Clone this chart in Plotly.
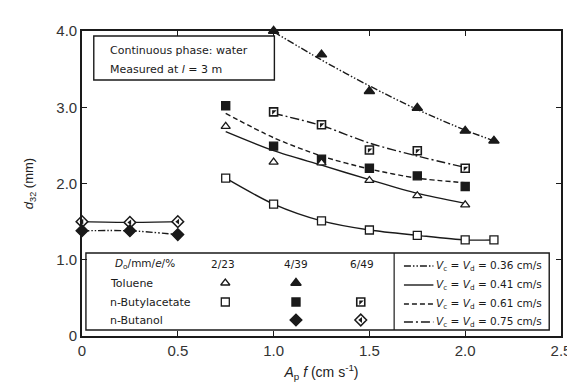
import plotly.graph_objects as go

# ---------------- data ----------------
# Toluene, Do/e = 4/39, Vc=Vd=0.36 cm/s
x_tol_439 = [1.0, 1.25, 1.5, 1.75, 2.0, 2.15]
y_tol_439 = [4.0, 3.69, 3.21, 2.99, 2.69, 2.56]
fit_tol_439 = [3.99, 3.62, 3.28, 2.97, 2.70, 2.56]

# n-Butylacetate, 6/49, Vc=Vd=0.75 cm/s
x_ba_649 = [1.0, 1.25, 1.5, 1.75, 2.0]
y_ba_649 = [2.94, 2.77, 2.44, 2.43, 2.20]
fit_ba_649 = [2.92, 2.76, 2.53, 2.36, 2.21]

# n-Butylacetate, 4/39, Vc=Vd=0.61 cm/s
x_ba_439 = [0.75, 1.0, 1.25, 1.5, 1.75, 2.0]
y_ba_439 = [3.02, 2.49, 2.32, 2.20, 2.10, 1.96]
fit_ba_439 = [2.92, 2.60, 2.36, 2.19, 2.07, 2.01]

# Toluene, 2/23, Vc=Vd=0.41 cm/s
x_tol_223 = [0.75, 1.0, 1.25, 1.5, 1.75, 2.0]
y_tol_223 = [2.75, 2.28, 2.27, 2.04, 1.84, 1.72]
fit_tol_223 = [2.68, 2.43, 2.24, 2.05, 1.87, 1.74]

# n-Butylacetate, 2/23, Vc=Vd=0.41 cm/s
x_ba_223 = [0.75, 1.0, 1.25, 1.5, 1.75, 2.0, 2.15]
y_ba_223 = [2.07, 1.73, 1.51, 1.39, 1.32, 1.26, 1.26]

# n-Butanol
x_bu = [0.0, 0.25, 0.5]
y_bu_649 = [1.50, 1.49, 1.50]   # 6/49, 0.41 cm/s
y_bu_439 = [1.38, 1.38, 1.33]   # 4/39, 0.36 cm/s

x_ticks = [0, 0.5, 1.0, 1.5, 2.0, 2.5]
x_tick_text = ["0", "0.5", "1.0", "1.5", "2.0", "2.5"]
y_ticks = [0, 1, 2, 3, 4]
y_tick_text = ["0", "1.0", "2.0", "3.0", "4.0"]

velocities = ["0.36", "0.41", "0.61", "0.75"]
dash_styles = ["7px,2px,1.5px,2px,1.5px,2px", "solid", "5px,3px", "9px,3px,2px,3px"]

INK = "#1a1a1a"
FONT = "DejaVu Sans"

fig = go.Figure()

def curve(x, y, dash):
    fig.add_trace(go.Scatter(x=x, y=y, mode="lines", line=dict(color=INK, width=1.4, dash=dash, shape="spline", smoothing=0.8),
                             showlegend=False, hoverinfo="skip", cliponaxis=False))

def marks(x, y, symbol, size=8, lw=1.4, color=INK):
    fig.add_trace(go.Scatter(x=x, y=y, mode="markers",
                             marker=dict(symbol=symbol, size=size, color=color, line=dict(color=INK, width=lw)),
                             showlegend=False, cliponaxis=False))

# lines
curve(x_tol_439, fit_tol_439, dash_styles[0])
curve(x_ba_649, fit_ba_649, dash_styles[3])
curve(x_ba_439, fit_ba_439, dash_styles[2])
curve(x_tol_223, fit_tol_223, dash_styles[1])
curve(x_ba_223, y_ba_223, dash_styles[1])
curve(x_bu, y_bu_649, dash_styles[1])
curve(x_bu, y_bu_439, dash_styles[0])

# markers
marks(x_tol_439, y_tol_439, "triangle-up", 9)
marks(x_ba_649, y_ba_649, "square", 8, 1.6, "white")
marks(x_ba_649, y_ba_649, "triangle-nw", 5, 0)
marks(x_ba_439, y_ba_439, "square", 8)
marks(x_tol_223, y_tol_223, "triangle-up", 8, 1.3, "white")
marks(x_ba_223, y_ba_223, "square", 8, 1.3, "white")
marks(x_bu, y_bu_649, "diamond", 9, 1.5, "white")
marks(x_bu, y_bu_649, "triangle-left", 5, 0)
marks(x_bu, y_bu_439, "diamond", 9)

# ---------------- overlay pixel axis for legend/annotation boxes ----------------
L, R, T, B = 74, 562, 23, 328

def px_marks(x, y, symbol, size=8, lw=1.4, color=INK):
    fig.add_trace(go.Scatter(x=x, y=y, xaxis="x2", yaxis="y2", mode="markers",
                             marker=dict(symbol=symbol, size=size, color=color, line=dict(color=INK, width=lw)),
                             showlegend=False, hoverinfo="skip", cliponaxis=False))

shapes = []
annotations = []

def box(x0, y0, x1, y1, w=1.4):
    shapes.append(dict(type="rect", xref="x2", yref="y2", x0=x0, y0=y0, x1=x1, y1=y1,
                       line=dict(color=INK, width=w), fillcolor="white", layer="below"))

def text(x, y, s, size=11, xanchor="left"):
    annotations.append(dict(x=x, y=y, xref="x2", yref="y2", text=s, showarrow=False,
                            xanchor=xanchor, yanchor="middle", font=dict(family=FONT, size=size, color=INK)))

# top-left info box
box(86, 28, 270, 72)
text(100, 42, "Continuous phase: water")
text(100, 61, "Measured at <i>l</i> = 3 m")

# bottom legend box
box(78, 245, 550, 322)
shapes.append(dict(type="line", xref="x2", yref="y2", x0=392, x1=392, y0=245, y1=322,
                   line=dict(color=INK, width=1.2), layer="below"))

text(106, 256, "<i>D</i><sub>o</sub>/mm/<i>e</i>/%", 10.5)
text(218, 256, "2/23", 10.5, "center")
text(292, 256, "4/39", 10.5, "center")
text(359, 256, "6/49", 10.5, "center")
text(100, 275, "Toluene")
text(100, 294, "n-Butylacetate")
text(100, 312, "n-Butanol")

for i, (v, d) in enumerate(zip(velocities, dash_styles)):
    yy = [258, 277, 296, 314][i]
    shapes.append(dict(type="line", xref="x2", yref="y2", x0=402, x1=432, y0=yy, y1=yy,
                       line=dict(color=INK, width=1.4, dash=d), layer="below"))
    text(433, yy, "<i>V</i><sub>c</sub> = <i>V</i><sub>d</sub> = " + v + " cm/s", 10.5)

fig.update_layout(shapes=shapes, annotations=annotations)

# legend glyphs
px_marks([220], [275], "triangle-up", 8, 1.3, "white")
px_marks([220], [294], "square", 8, 1.3, "white")
px_marks([292], [275], "triangle-up", 9)
px_marks([292], [294], "square", 8)
px_marks([292], [312], "diamond", 9)
px_marks([358], [294], "square", 8, 1.6, "white")
px_marks([358], [294], "triangle-nw", 5, 0)
px_marks([358], [312], "diamond", 9, 1.5, "white")
px_marks([358], [312], "triangle-left", 5, 0)

fig.update_layout(
    width=575, height=387,
    margin=dict(l=L, r=575 - R, t=T, b=387 - B),
    paper_bgcolor="white", plot_bgcolor="white",
    showlegend=False,
    xaxis=dict(range=[0, 2.5], tickvals=x_ticks, ticktext=x_tick_text, ticks="inside", ticklen=5,
               tickcolor=INK, showline=True, linecolor=INK, linewidth=1.6, mirror="ticks",
               showgrid=False, zeroline=False,
               tickfont=dict(family="Liberation Sans", size=15, color="#333"),
               title=dict(text="<i>A</i><sub>p</sub> <i>f</i> (cm s<sup>-1</sup>)", standoff=9,
                          font=dict(family="Liberation Sans", size=14, color="#222"))),
    yaxis=dict(range=[0, 4], tickvals=y_ticks, ticktext=y_tick_text, ticks="inside", ticklen=5,
               tickcolor=INK, showline=True, linecolor=INK, linewidth=1.6, mirror="ticks",
               showgrid=False, zeroline=False,
               tickfont=dict(family="Liberation Sans", size=15, color="#333"),
               title=dict(text="<i>d</i><sub>32</sub> (mm)", standoff=20,
                          font=dict(family="Liberation Sans", size=13, color="#222"))),
    xaxis2=dict(range=[L, R], overlaying="x", anchor="y2", visible=False),
    yaxis2=dict(range=[B, T], overlaying="y", anchor="x2", visible=False),
)

fig.write_html("out.html")
